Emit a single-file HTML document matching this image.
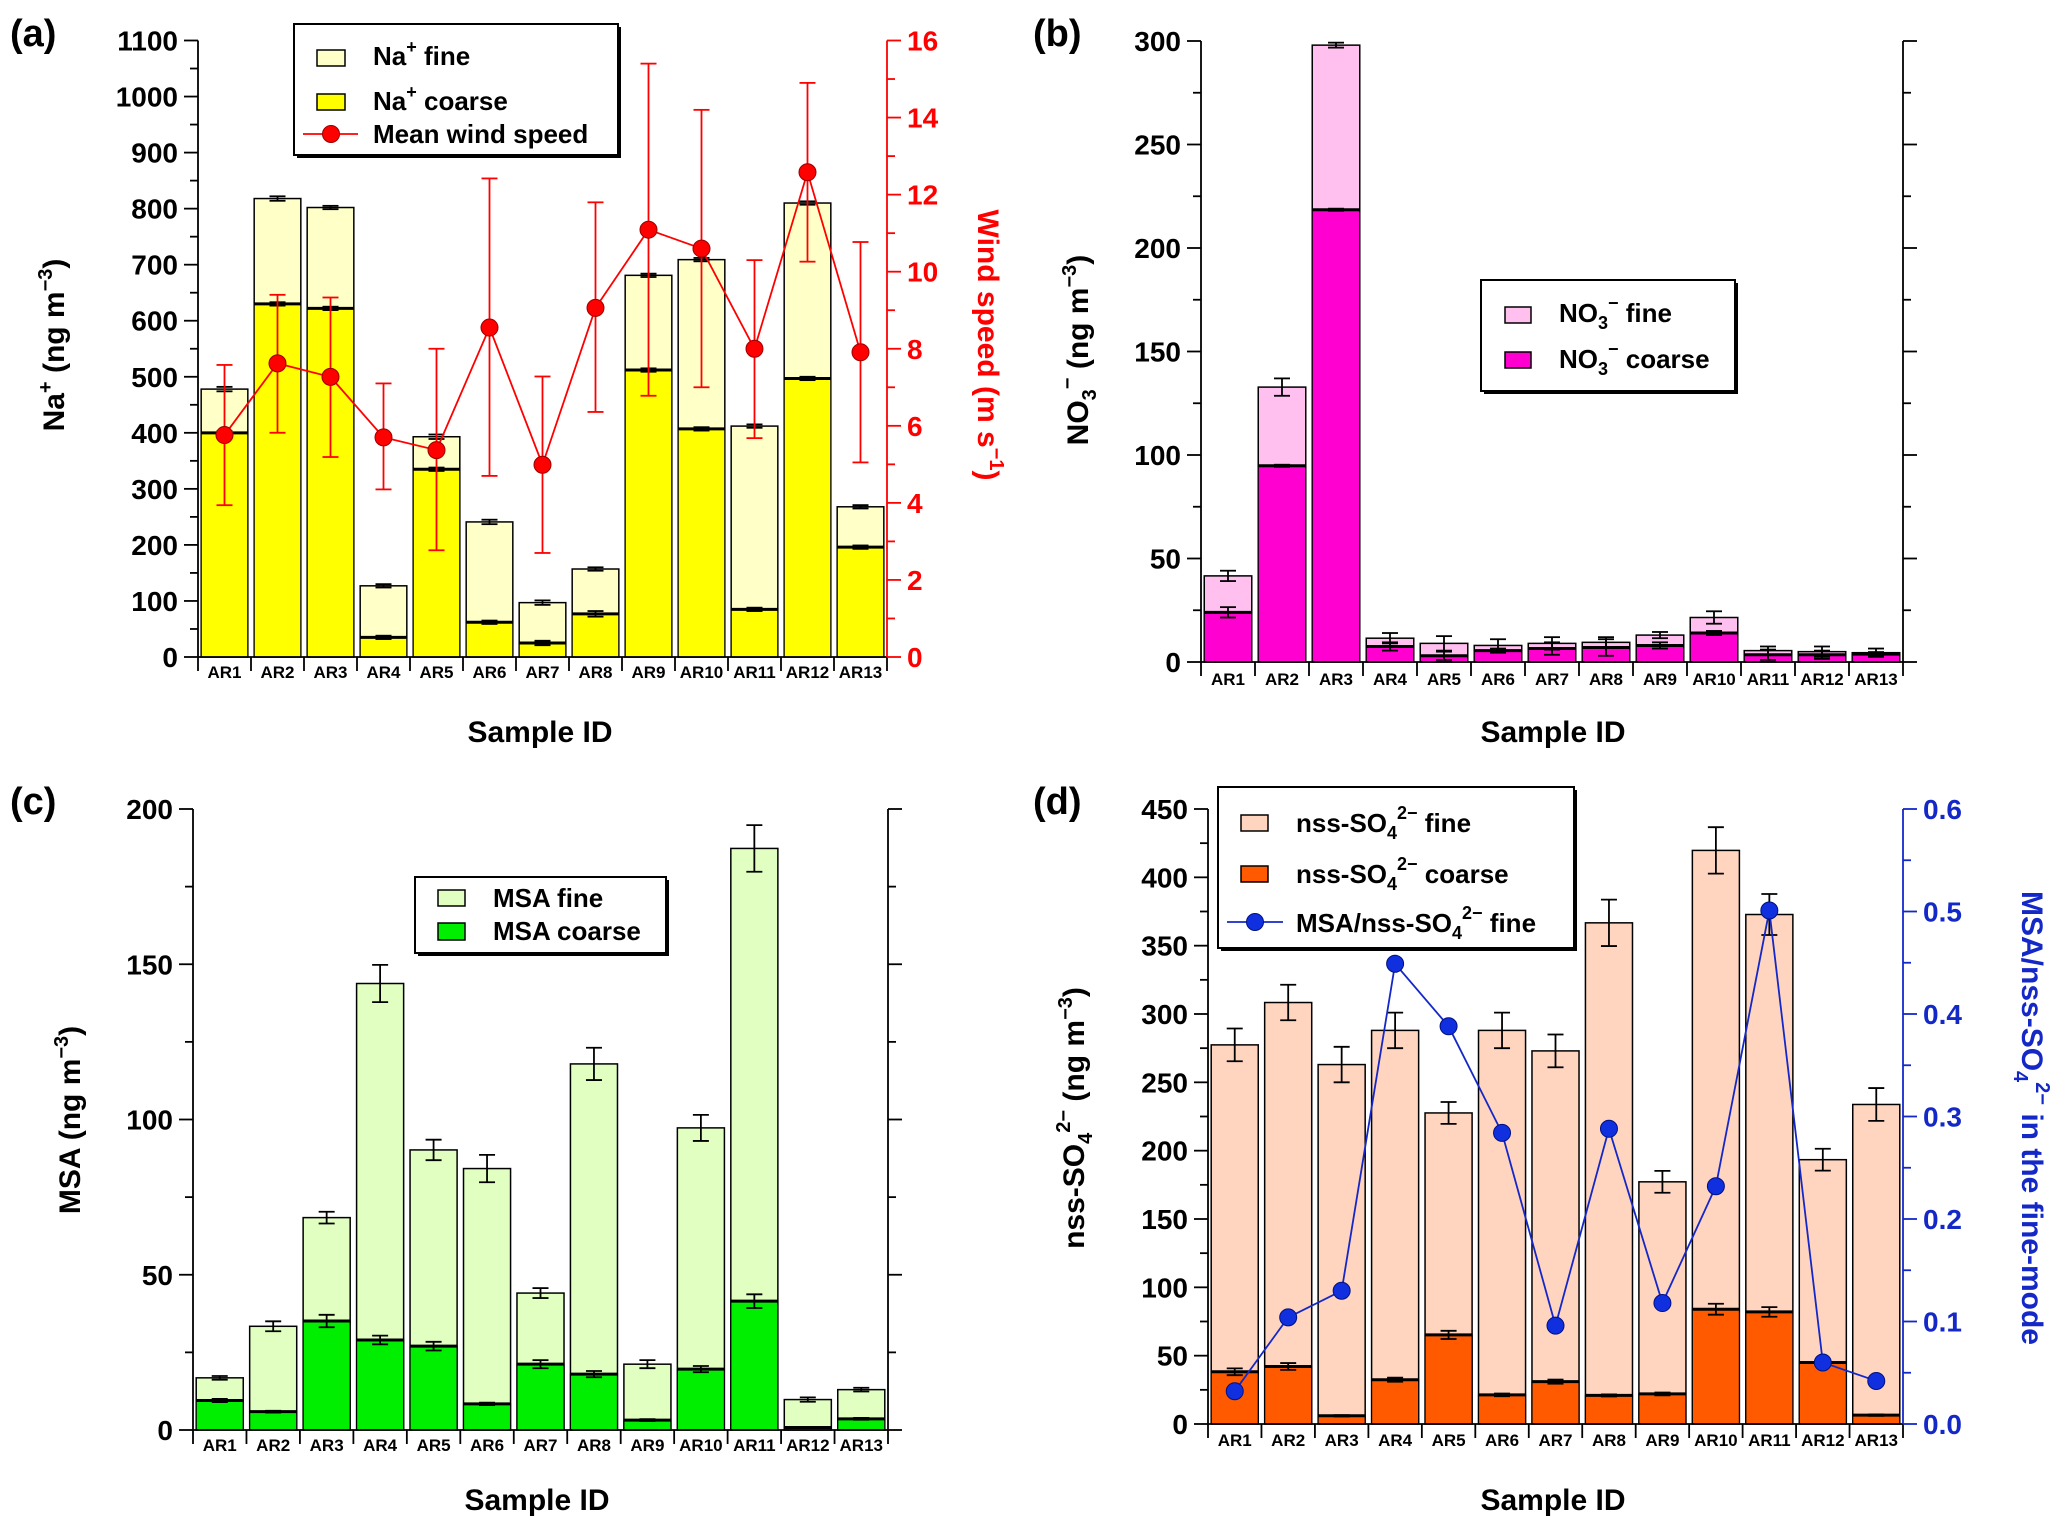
<!DOCTYPE html>
<html><head><meta charset="utf-8">
<style>
html,body{margin:0;padding:0;background:#fff;}
svg{display:block;font-family:"Liberation Sans",Arial,sans-serif;font-weight:bold;}
</style></head>
<body>
<svg id="fig" width="2067" height="1530" viewBox="0 0 2067 1530" xmlns="http://www.w3.org/2000/svg"></svg>
<script>
const categories = ["AR1","AR2","AR3","AR4","AR5","AR6","AR7","AR8","AR9","AR10","AR11","AR12","AR13"];
// Panel a
const naTotal  = [478,818,802,127,393,241,97,157,681,709,412,810,268];
const naCoarse = [400,630,622,35,335,62,25,77,512,407,85,497,196];
const naTotalErr = [4,4,3,3,4,4,4,3,3,3,3,3,3];
const naCoarseErr = [3,3,3,3,3,3,4,5,3,3,3,3,3];
const windMean = [5.76,7.62,7.27,5.7,5.37,8.55,4.99,9.06,11.09,10.6,8.0,12.58,7.91];
const windHi   = [7.58,9.4,9.33,7.1,8.0,12.42,7.28,11.8,15.4,14.2,10.3,14.9,10.77];
const windLo   = [3.94,5.82,5.19,4.35,2.77,4.7,2.7,6.36,6.78,7.0,5.68,10.26,5.05];
// Panel b
const no3Total  = [41.6,132.8,298,11.5,9,8,9,9.5,13,21.5,5.5,5,4.5];
const no3Coarse = [24,94.8,218.5,7.5,3,5.5,6.5,7,8,14,3.5,3.5,3.8];
const no3TotalErr = [2.5,4.2,1.2,2.5,3.5,3,3,2.5,1.5,3,2,2.5,2];
const no3CoarseErr = [2.5,0.5,0.5,2,2,1,3,4,1.5,1,2.5,2,1];
// Panel c
const msaTotal  = [16.8,33.4,68.4,143.8,90.2,84.2,44.1,117.9,21.2,97.3,187.3,9.8,13];
const msaCoarse = [9.5,5.9,35.1,29,27,8.4,21.2,18,3.2,19.6,41.5,0.8,3.6];
const msaTotalErr = [0.6,1.6,1.9,6,3.3,4.4,1.6,5.2,1.3,4.2,7.5,0.7,0.6];
const msaCoarseErr = [0.5,0.3,2,1.4,1.4,0.4,1.3,1,0.3,1,2.2,0.2,0.3];
// Panel d
const so4Total  = [277.4,308.4,263,288,227.6,288,273,366.7,177.2,419.7,372.8,193.4,233.8];
const so4Coarse = [38.2,42.1,6,32.4,65.2,21.3,31,20.9,22,84,82,45,6.5];
const so4TotalErr = [12,13,13,13,8,13,12,17,8,17,15,8,12];
const so4CoarseErr = [2.5,2.5,0.5,1.5,3,1,1.5,0.8,1,4,3.5,1,0.5];
const ratio = [0.032,0.104,0.130,0.449,0.388,0.284,0.096,0.288,0.118,0.232,0.501,0.060,0.042];

const NS="http://www.w3.org/2000/svg";
const svg=document.getElementById('fig');
function mk(tag,attrs,parent,text){const e=document.createElementNS(NS,tag);for(const k in attrs)e.setAttribute(k,attrs[k]);if(text!==undefined)e.textContent=text;(parent||svg).appendChild(e);return e;}

function panel(cfg){
  const g=mk('g',{});
  
  
  const n=categories.length, step=(cfg.x1-cfg.x0)/n;
  const y=v=>cfg.yBot-(v/cfg.max)*(cfg.yBot-cfg.yTop);
  const xc=i=>cfg.x0+step*(i+0.5);
  const bw=step*0.88;
  for(let i=0;i<n;i++){
    const r1=mk('rect',{x:xc(i)-bw/2,y:y(cfg.total[i]),width:bw,height:cfg.yBot-y(cfg.total[i]),fill:cfg.fine,stroke:'#000','stroke-width':1.5},g);
    
    
    const r2=mk('rect',{x:xc(i)-bw/2,y:y(cfg.coarse[i]),width:bw,height:cfg.yBot-y(cfg.coarse[i]),fill:cfg.coarseC,stroke:'#000','stroke-width':1.2},g);
    
    
    mk('line',{x1:xc(i)-bw/2,x2:xc(i)+bw/2,y1:y(cfg.coarse[i]),y2:y(cfg.coarse[i]),stroke:'#000','stroke-width':3},g);
    [[cfg.total[i],cfg.totalErr[i]],[cfg.coarse[i],cfg.coarseErr[i]]].forEach(([v,e])=>{
      const eg=mk('g',{stroke:'#000','stroke-width':1.8},g);
      
      
      mk('line',{x1:xc(i),x2:xc(i),y1:y(v+e),y2:y(Math.max(0,v-e))},eg);
      mk('line',{x1:xc(i)-8,x2:xc(i)+8,y1:y(v+e),y2:y(v+e)},eg);
      mk('line',{x1:xc(i)-8,x2:xc(i)+8,y1:y(Math.max(0,v-e)),y2:y(Math.max(0,v-e))},eg);
    });
  }
  const ax=mk('g',{stroke:'#000','stroke-width':1.8},g);
  
  
  mk('line',{x1:cfg.x0,x2:cfg.x0,y1:cfg.yTop,y2:cfg.yBot},ax);
  mk('line',{x1:cfg.x0,x2:cfg.x1,y1:cfg.yBot,y2:cfg.yBot},ax);
  for(let v=0;v<=cfg.max+1e-9;v+=cfg.minor){
    const major=Math.abs(v/cfg.major-Math.round(v/cfg.major))<1e-6;
    mk('line',{x1:cfg.x0-(major?14:8),x2:cfg.x0,y1:y(v),y2:y(v)},ax);
    if(major){const t=mk('text',{x:cfg.x0-20,y:y(v)+10,'text-anchor':'end','font-size':28,fill:'#000',stroke:'none'},g,String(Math.round(v)));
      }
  }
  for(let i=0;i<=n;i++) mk('line',{x1:cfg.x0+step*i,x2:cfg.x0+step*i,y1:cfg.yBot,y2:cfg.yBot+14},ax);
  for(let i=0;i<n;i++){const t=mk('text',{x:xc(i),y:cfg.catY,'text-anchor':'middle','font-size':17},g,categories[i]);
    }
  const rc=cfg.rColor||'#000';
  const rax=mk('g',{stroke:rc,'stroke-width':1.8},g);
  
  
  mk('line',{x1:cfg.x1,x2:cfg.x1,y1:cfg.yTop,y2:cfg.yBot},rax);
  if(cfg.rMax){
    const yr=v=>cfg.yBot-(v/cfg.rMax)*(cfg.yBot-cfg.yTop);
    const cnt=Math.round(cfg.rMax/cfg.rMinor);
    for(let k=0;k<=cnt;k++){const v=k*cfg.rMinor;const major=k%2===0;
      mk('line',{x1:cfg.x1,x2:cfg.x1+(major?14:8),y1:yr(v),y2:yr(v)},rax);
      if(major){const t=mk('text',{x:cfg.x1+20,y:yr(v)+10,'font-size':28,fill:rc,stroke:'none'},g,cfg.rFmt(v));
        }
    }
  } else {
    for(let v=0;v<=cfg.max+1e-9;v+=cfg.minor){const major=Math.abs(v/cfg.major-Math.round(v/cfg.major))<1e-6;
      mk('line',{x1:cfg.x1,x2:cfg.x1+(major?14:8),y1:y(v),y2:y(v)},rax);}
  }
  cfg.y=y;cfg.xc=xc;
  return g;
}

const A={name:'panel-a',x0:198,x1:887,yTop:40.5,yBot:657,max:1100,major:100,minor:50,catY:678,
  total:naTotal,coarse:naCoarse,totalErr:naTotalErr,coarseErr:naCoarseErr,fine:'#ffffc8',coarseC:'#ffff00',
  rColor:'#ff0000',rMax:16,rMinor:1,rFmt:v=>String(v)};
const ga=panel(A);
{const yr=v=>A.yBot-(v/16)*(A.yBot-A.yTop);
 const lg=mk('g',{stroke:'#ff0000','stroke-width':1.8,fill:'none'},ga);
 
 for(let i=0;i<windMean.length;i++){
   mk('line',{x1:A.xc(i),x2:A.xc(i),y1:yr(windHi[i]),y2:yr(windLo[i])},lg);
   mk('line',{x1:A.xc(i)-8,x2:A.xc(i)+8,y1:yr(windHi[i]),y2:yr(windHi[i])},lg);
   mk('line',{x1:A.xc(i)-8,x2:A.xc(i)+8,y1:yr(windLo[i]),y2:yr(windLo[i])},lg);
 }
 mk('polyline',{points:windMean.map((v,i)=>A.xc(i)+','+yr(v)).join(' ')},lg);
 windMean.forEach((v,i)=>{const c=mk('circle',{cx:A.xc(i),cy:yr(v),r:8.5,fill:'#ff0000',stroke:'#900','stroke-width':1},lg);
   });
}
const B={name:'panel-b',x0:1201,x1:1903,yTop:41,yBot:662,max:300,major:50,minor:25,catY:685,
  total:no3Total,coarse:no3Coarse,totalErr:no3TotalErr,coarseErr:no3CoarseErr,fine:'#ffc0f0',coarseC:'#ff00d0'};
panel(B);
const C={name:'panel-c',x0:193,x1:888,yTop:809,yBot:1430,max:200,major:50,minor:25,catY:1451,
  total:msaTotal,coarse:msaCoarse,totalErr:msaTotalErr,coarseErr:msaCoarseErr,fine:'#e0ffc0',coarseC:'#00ee00'};
panel(C);
const D={name:'panel-d',x0:1208,x1:1903,yTop:809,yBot:1424,max:450,major:50,minor:25,catY:1446,
  total:so4Total,coarse:so4Coarse,totalErr:so4TotalErr,coarseErr:so4CoarseErr,fine:'#ffd5c0',coarseC:'#ff5a00',
  rColor:'#1428c8',rMax:0.6,rMinor:0.05,rFmt:v=>v.toFixed(1)};
const gd=panel(D);
{const yr=v=>D.yBot-(v/0.6)*(D.yBot-D.yTop);
 const lg=mk('g',{stroke:'#1428c8','stroke-width':1.8,fill:'none'},gd);
 
 mk('polyline',{points:ratio.map((v,i)=>D.xc(i)+','+yr(v)).join(' ')},lg);
 ratio.forEach((v,i)=>{const c=mk('circle',{cx:D.xc(i),cy:yr(v),r:8.5,fill:'#1030e0',stroke:'#001080','stroke-width':1},lg);
   });
}
</script>
<svg style="position:absolute;left:0;top:0" width="2067" height="1530" viewBox="0 0 2067 1530" xmlns="http://www.w3.org/2000/svg">
 <g font-family="Liberation Sans, Arial, sans-serif" font-weight="bold">
  <text x="10" y="46" font-size="38">(a)</text>
  <text x="1033" y="46" font-size="38">(b)</text>
  <text x="10" y="814" font-size="38">(c)</text>
  <text x="1033" y="814" font-size="38">(d)</text>

  <text x="540" y="742" font-size="30" text-anchor="middle">Sample ID</text>
  <text x="1553" y="742" font-size="30" text-anchor="middle">Sample ID</text>
  <text x="537" y="1510" font-size="30" text-anchor="middle">Sample ID</text>
  <text x="1553" y="1510" font-size="30" text-anchor="middle">Sample ID</text>

  <text transform="translate(64,345) rotate(-90)" font-size="30" text-anchor="middle">Na<tspan dy="-12" font-size="20">+</tspan><tspan dy="12"> (ng m</tspan><tspan dy="-12" font-size="20">−3</tspan><tspan dy="12">)</tspan></text>
  <text transform="translate(978,345) rotate(90)" font-size="30" text-anchor="middle" fill="#ff0000">Wind speed (m s<tspan dy="-12" font-size="20">−1</tspan><tspan dy="12">)</tspan></text>
  <text transform="translate(1088,350) rotate(-90)" font-size="30" text-anchor="middle">NO<tspan dy="8" font-size="20">3</tspan><tspan dy="-22" font-size="20">−</tspan><tspan dy="14"> (ng m</tspan><tspan dy="-12" font-size="20">−3</tspan><tspan dy="12">)</tspan></text>
  <text transform="translate(80,1120) rotate(-90)" font-size="30" text-anchor="middle">MSA (ng m<tspan dy="-12" font-size="20">−3</tspan><tspan dy="12">)</tspan></text>
  <text transform="translate(1084,1118) rotate(-90)" font-size="30" text-anchor="middle">nss-SO<tspan dy="8" font-size="20">4</tspan><tspan dy="-22" font-size="20">2−</tspan><tspan dy="14"> (ng m</tspan><tspan dy="-12" font-size="20">−3</tspan><tspan dy="12">)</tspan></text>
  <text transform="translate(2022,1118) rotate(90)" font-size="30" text-anchor="middle" fill="#1428c8">MSA/nss-SO<tspan dy="8" font-size="20">4</tspan><tspan dy="-22" font-size="20">2−</tspan><tspan dy="14"> in the fine-mode</tspan></text>

  <g>
   <rect x="297" y="27" width="324" height="131" fill="#000"/>
   <rect x="294" y="24" width="324" height="131" fill="#fff" stroke="#000" stroke-width="2"/>
   <rect x="317" y="50" width="28" height="16" fill="#ffffc8" stroke="#000" stroke-width="1.5"/>
   <text x="373" y="65" font-size="26">Na<tspan dy="-12" font-size="18">+</tspan><tspan dy="12"> fine</tspan></text>
   <rect x="317" y="94" width="28" height="16" fill="#ffff00" stroke="#000" stroke-width="1.5"/>
   <text x="373" y="110" font-size="26">Na<tspan dy="-12" font-size="18">+</tspan><tspan dy="12"> coarse</tspan></text>
   <line x1="303" x2="358" y1="134" y2="134" stroke="#ff0000" stroke-width="1.8"/>
   <circle cx="331" cy="134" r="8.5" fill="#ff0000" stroke="#900"/>
   <text x="373" y="143" font-size="26">Mean wind speed</text>
  </g>
  <g>
   <rect x="1484" y="283" width="254" height="111" fill="#000"/>
   <rect x="1481" y="280" width="254" height="111" fill="#fff" stroke="#000" stroke-width="2"/>
   <rect x="1505" y="307" width="26" height="16" fill="#ffc0f0" stroke="#000" stroke-width="1.5"/>
   <text x="1559" y="322" font-size="26">NO<tspan dy="7" font-size="18">3</tspan><tspan dy="-20" font-size="18">−</tspan><tspan dy="13"> fine</tspan></text>
   <rect x="1505" y="352" width="26" height="16" fill="#ff00d0" stroke="#000" stroke-width="1.5"/>
   <text x="1559" y="368" font-size="26">NO<tspan dy="7" font-size="18">3</tspan><tspan dy="-20" font-size="18">−</tspan><tspan dy="13"> coarse</tspan></text>
  </g>
  <g>
   <rect x="418" y="880" width="251" height="76" fill="#000"/>
   <rect x="415" y="877" width="251" height="76" fill="#fff" stroke="#000" stroke-width="2"/>
   <rect x="438" y="890" width="27" height="16" fill="#e0ffc0" stroke="#000" stroke-width="1.5"/>
   <text x="493" y="907" font-size="26">MSA fine</text>
   <rect x="438" y="923" width="27" height="17" fill="#00ee00" stroke="#000" stroke-width="1.5"/>
   <text x="493" y="940" font-size="26">MSA coarse</text>
  </g>
  <g>
   <rect x="1221" y="790" width="356" height="161" fill="#000"/>
   <rect x="1218" y="787" width="356" height="161" fill="#fff" stroke="#000" stroke-width="2"/>
   <rect x="1241" y="815" width="27" height="16" fill="#ffd5c0" stroke="#000" stroke-width="1.5"/>
   <text x="1296" y="832" font-size="26">nss-SO<tspan dy="7" font-size="18">4</tspan><tspan dy="-20" font-size="18">2−</tspan><tspan dy="13"> fine</tspan></text>
   <rect x="1241" y="866" width="27" height="16" fill="#ff5a00" stroke="#000" stroke-width="1.5"/>
   <text x="1296" y="883" font-size="26">nss-SO<tspan dy="7" font-size="18">4</tspan><tspan dy="-20" font-size="18">2−</tspan><tspan dy="13"> coarse</tspan></text>
   <line x1="1227" x2="1283" y1="922" y2="922" stroke="#1428c8" stroke-width="1.8"/>
   <circle cx="1255" cy="922" r="8.5" fill="#1030e0" stroke="#001080"/>
   <text x="1296" y="932" font-size="26">MSA/nss-SO<tspan dy="7" font-size="18">4</tspan><tspan dy="-20" font-size="18">2−</tspan><tspan dy="13"> fine</tspan></text>
  </g>
 </g>
</svg>
</body></html>
